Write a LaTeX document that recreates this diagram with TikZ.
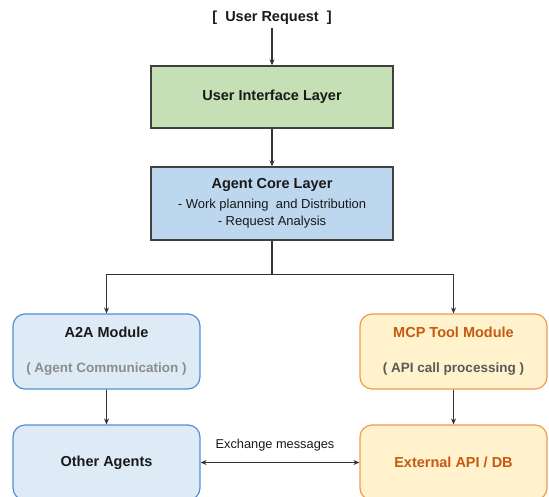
\documentclass[tikz,border=0pt]{standalone}
\usepackage{fontspec}
\setmainfont{Liberation Sans}
\usetikzlibrary{positioning, calc, arrows.meta}

\definecolor{uigreen}{HTML}{C5E0B4}
\definecolor{coreblue}{HTML}{BDD7EE}
\definecolor{agentfill}{HTML}{DEEBF7}
\definecolor{agentline}{HTML}{4F8FD6}
\definecolor{toolfill}{HTML}{FFF2CC}
\definecolor{toolline}{HTML}{F09A50}
\definecolor{tooltext}{HTML}{C55A11}

\begin{document}
\begin{tikzpicture}[>={Stealth[length=6pt,width=5pt]}, on grid,
			font=\bfseries\fontsize{14.5}{17}\selectfont, text=black!90,
			layer/.style={draw=black!75, line width=1.4pt, minimum width=242pt, align=center},
			module/.style={rounded corners=12pt, line width=1.2pt, minimum width=187pt,
				minimum height=75pt, align=center},
			agent/.style={module, draw=agentline, fill=agentfill},
			tool/.style={module, draw=toolline, fill=toolfill, text=tooltext},
			link/.style={draw=black!80, line width=1.1pt}]
			\useasboundingbox (0,0) rectangle (549pt,-496pt);
			
			\node (req) at (272pt,-18pt) {[\ \ User Request\ \ ]};
			\node[layer, fill=uigreen, minimum height=62pt]  (ui)   [below=79pt of req] {User Interface Layer};
			\node[layer, fill=coreblue, minimum height=73pt] (core) [below=106.5pt of ui]
				{Agent Core Layer\\[3pt]
				{\mdseries\fontsize{13}{16}\selectfont - Work planning\ \ and Distribution}\\
				{\mdseries\fontsize{13}{16}\selectfont - Request Analysis}};
			
			%Módulos
			\node[agent] (a2a) [below left=148pt and 165.5pt of core]
				{A2A Module\\[18pt]{\color{black!45}\fontsize{13.5}{15}\selectfont( Agent Communication )}};
			\node[tool]  (mcp) [below right=148pt and 181.5pt of core]
				{MCP Tool Module\\[18pt]{\color{black!65}\fontsize{13.5}{15}\selectfont( API call processing )}};
			\node[agent] (other) [below=111pt of a2a] {Other Agents};
			\node[tool]  (ext)   [below=111pt of mcp] {External API / DB};
			
			\path[link, ->] (req) edge (ui)
			(ui) edge (core)
			(a2a) edge (other)
			(mcp) edge (ext);
			\draw[link, ->] (core.south) -- ++(0,-34pt) -| (a2a.north);
			\draw[link, ->] (core.south) -- ++(0,-34pt) -| (mcp.north);
			\draw[link, <->] (other) -- node[midway, yshift=17pt, xshift=-5pt, font=\mdseries\fontsize{12.8}{15}\selectfont] {Exchange messages} (ext);
		\end{tikzpicture}
\end{document}
